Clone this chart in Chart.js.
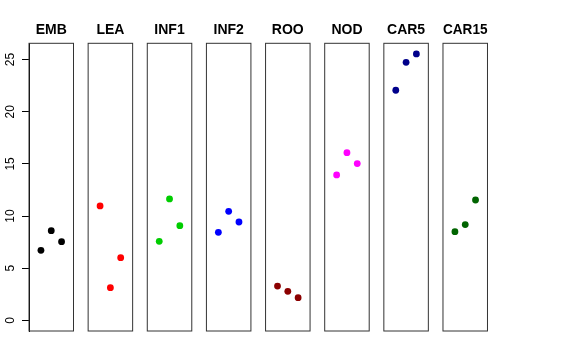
<!DOCTYPE html>
<html>
<head>
<meta charset="utf-8">
<script src="https://cdn.jsdelivr.net/npm/chart.js@4/dist/chart.umd.min.js"></script>
<style>
  html, body { margin: 0; padding: 0; background: #ffffff; }
  #wrap { position: relative; width: 576px; height: 360px; overflow: hidden; background: #ffffff; }
  canvas { position: absolute; top: 0; }
</style>
</head>
<body>
<div id="wrap"></div>
<script>
// ---- data ----
const categories = ['EMB', 'LEA', 'INF1', 'INF2', 'ROO', 'NOD', 'CAR5', 'CAR15'];
const replicates = [1, 2, 3];
const valuesEMB   = [6.71, 8.60, 7.54];
const valuesLEA   = [10.97, 3.13, 6.01];
const valuesINF1  = [7.58, 11.64, 9.08];
const valuesINF2  = [8.44, 10.45, 9.43];
const valuesROO   = [3.29, 2.78, 2.17];
const valuesNOD   = [13.94, 16.08, 15.03];
const valuesCAR5  = [22.06, 24.74, 25.54];
const valuesCAR15 = [8.50, 9.18, 11.54];
const yTicks = [0, 5, 10, 15, 20, 25];

const seriesValues = [valuesEMB, valuesLEA, valuesINF1, valuesINF2, valuesROO, valuesNOD, valuesCAR5, valuesCAR15];
const seriesColors = ['#000000', '#ff0000', '#00cd00', '#0000ff', '#8b0000', '#ff00ff', '#00008b', '#006400'];

// ---- layout (styles/positions) ----
const FONT = '"Liberation Sans", Arial, Helvetica, sans-serif';
const panelFirstLeft = 29;
const panelStep = 59.14;
const panelWidth = 44.5;
const chartTop = 43.3;
const chartBottom = 331;
const H = 360;
const sideRoom = 14;
const yAxisWidth = 29;

// y range like R: data range extended by 4% (ylim from 0 to max)
const yMaxData = Math.max(...seriesValues.flat());
const yLo = 0, yHi = yMaxData;
const yPad = (yHi - yLo) * 0.04;
const xLo = 0, xHi = replicates.length + 1;
const xPad = (xHi - xLo) * 0.04;

const boxPlugin = {
  id: 'panelBox',
  afterDraw(chart) {
    const a = chart.chartArea;
    const ctx = chart.ctx;
    ctx.save();
    ctx.strokeStyle = '#333333';
    ctx.lineWidth = 1;
    ctx.strokeRect(a.left, a.top, a.right - a.left, a.bottom - a.top);
    ctx.restore();
  }
};

const wrap = document.getElementById('wrap');

categories.forEach((cat, i) => {
  const panelLeft = panelFirstLeft + i * panelStep;
  const first = i === 0;
  const canvasLeft = first ? 0 : Math.floor(panelLeft - sideRoom);
  const padLeft = first ? 0 : panelLeft - canvasLeft;
  const areaLeftFromCanvas = first ? yAxisWidth : padLeft;
  const W = Math.ceil(areaLeftFromCanvas + panelWidth + sideRoom);
  const padRight = W - areaLeftFromCanvas - panelWidth;

  const cv = document.createElement('canvas');
  cv.width = W; cv.height = H;
  cv.style.width = W + 'px'; cv.style.height = H + 'px';
  cv.style.left = canvasLeft + 'px';
  wrap.appendChild(cv);

  const titleFont = 14;
  const titleLine = 1.2;
  const titlePadTop = 30 - titleFont * titleLine / 2;
  const titlePadBottom = chartTop - titlePadTop - titleFont * titleLine;

  new Chart(cv, {
    type: 'scatter',
    data: {
      datasets: [{
        label: cat,
        data: replicates.map((r, j) => ({ x: r, y: seriesValues[i][j] })),
        backgroundColor: seriesColors[i],
        borderColor: seriesColors[i],
        borderWidth: 0,
        pointRadius: 3.4,
        pointHoverRadius: 3.4
      }]
    },
    options: {
      responsive: false,
      animation: false,
      devicePixelRatio: 1,
      layout: { padding: { left: padLeft, right: padRight, top: 0, bottom: H - chartBottom } },
      plugins: {
        legend: { display: false },
        tooltip: { enabled: false },
        title: {
          display: true,
          text: cat,
          fullSize: false,
          color: '#000000',
          font: { family: FONT, size: titleFont, weight: 'bold', lineHeight: titleLine },
          padding: { top: titlePadTop, bottom: titlePadBottom }
        }
      },
      scales: {
        x: {
          type: 'linear',
          display: false,
          min: xLo - xPad,
          max: xHi + xPad
        },
        y: {
          type: 'linear',
          display: first,
          min: yLo - yPad,
          max: yHi + yPad,
          afterBuildTicks(scale) { scale.ticks = yTicks.map(v => ({ value: v })); },
          afterFit(scale) {
            if (first) { scale.width = yAxisWidth; scale.paddingTop = 0; scale.paddingBottom = 0; }
          },
          grid: {
            display: true,
            drawOnChartArea: false,
            drawTicks: true,
            tickLength: 7,
            color: '#000000',
            lineWidth: 1
          },
          border: { display: true, color: '#000000', width: 1 },
          ticks: {
            color: '#000000',
            font: { family: FONT, size: 12 },
            minRotation: 90,
            maxRotation: 90,
            crossAlign: 'center',
            padding: 4.5,
            autoSkip: false
          }
        }
      }
    },
    plugins: [boxPlugin]
  });
});
</script>
</body>
</html>
